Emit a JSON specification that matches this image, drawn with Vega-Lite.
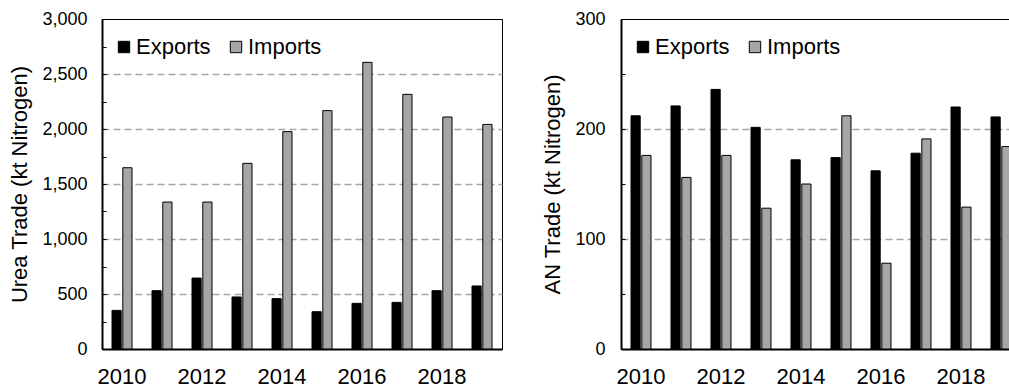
{
  "$schema": "https://vega.github.io/schema/vega-lite/v6.json",
  "padding": {"left": 8, "top": 9, "right": 0, "bottom": 0},
  "datasets": {
    "urea": [
      {"year": 2010, "type": "Exports", "value": 351},
      {"year": 2011, "type": "Exports", "value": 530},
      {"year": 2012, "type": "Exports", "value": 645},
      {"year": 2013, "type": "Exports", "value": 473},
      {"year": 2014, "type": "Exports", "value": 458},
      {"year": 2015, "type": "Exports", "value": 339},
      {"year": 2016, "type": "Exports", "value": 415},
      {"year": 2017, "type": "Exports", "value": 424},
      {"year": 2018, "type": "Exports", "value": 530},
      {"year": 2019, "type": "Exports", "value": 573},
      {"year": 2010, "type": "Imports", "value": 1648},
      {"year": 2011, "type": "Imports", "value": 1336},
      {"year": 2012, "type": "Imports", "value": 1336},
      {"year": 2013, "type": "Imports", "value": 1688},
      {"year": 2014, "type": "Imports", "value": 1976},
      {"year": 2015, "type": "Imports", "value": 2167},
      {"year": 2016, "type": "Imports", "value": 2606},
      {"year": 2017, "type": "Imports", "value": 2315},
      {"year": 2018, "type": "Imports", "value": 2109},
      {"year": 2019, "type": "Imports", "value": 2042}
    ],
    "an": [
      {"year": 2010, "type": "Exports", "value": 212},
      {"year": 2011, "type": "Exports", "value": 221},
      {"year": 2012, "type": "Exports", "value": 236},
      {"year": 2013, "type": "Exports", "value": 201.5},
      {"year": 2014, "type": "Exports", "value": 172},
      {"year": 2015, "type": "Exports", "value": 174},
      {"year": 2016, "type": "Exports", "value": 162},
      {"year": 2017, "type": "Exports", "value": 178},
      {"year": 2018, "type": "Exports", "value": 220},
      {"year": 2019, "type": "Exports", "value": 211},
      {"year": 2010, "type": "Imports", "value": 176},
      {"year": 2011, "type": "Imports", "value": 156},
      {"year": 2012, "type": "Imports", "value": 176},
      {"year": 2013, "type": "Imports", "value": 128},
      {"year": 2014, "type": "Imports", "value": 150},
      {"year": 2015, "type": "Imports", "value": 212},
      {"year": 2016, "type": "Imports", "value": 78},
      {"year": 2017, "type": "Imports", "value": 191},
      {"year": 2018, "type": "Imports", "value": 129},
      {"year": 2019, "type": "Imports", "value": 184}
    ]
  },
  "config": {
    "font": "Liberation Sans",
    "view": {"stroke": "#000000", "strokeWidth": 1},
    "axis": {
      "labelColor": "#000000",
      "titleColor": "#000000",
      "domainColor": "#000000",
      "domainWidth": 2,
      "tickColor": "#000000",
      "tickWidth": 1,
      "titleFontWeight": "normal",
      "titleFontSize": 22
    },
    "legend": {
      "orient": "none",
      "legendX": 11,
      "legendY": 17,
      "direction": "horizontal",
      "labelFontSize": 22,
      "labelColor": "#000000",
      "symbolType": "square",
      "symbolSize": 130,
      "symbolStrokeColor": "#000000",
      "symbolStrokeWidth": 1,
      "symbolOpacity": 1,
      "labelOffset": 1,
      "columnPadding": 14
    }
  },
  "spacing": 38,
  "resolve": {"scale": {"color": "independent"}, "legend": {"color": "independent"}},
  "hconcat": [
    {
      "width": 400,
      "height": 330,
      "data": {"name": "urea"},
      "mark": {"type": "bar", "stroke": "#000000", "strokeWidth": 1, "opacity": 1},
      "encoding": {
        "x": {
          "field": "year", "type": "ordinal",
          "scale": {"paddingInner": 0.5, "paddingOuter": 0.25},
          "axis": {"values": [2010, 2012, 2014, 2016, 2018], "title": null, "labelAngle": 0, "ticks": false, "labelPadding": 17, "labelFontSize": 22, "grid": false}
        },
        "xOffset": {"field": "type", "type": "nominal", "scale": {"paddingInner": 0.15}},
        "y": {
          "field": "value", "type": "quantitative",
          "scale": {"domain": [0, 3000], "nice": false},
          "axis": {
            "values": [0, 250, 500, 750, 1000, 1250, 1500, 1750, 2000, 2250, 2500, 2750, 3000],
            "format": ",d",
            "labelExpr": "datum.value % 500 === 0 ? datum.label : ''",
            "title": "Urea Trade  (kt Nitrogen)",
            "titlePadding": 10,
            "labelFontSize": 18,
            "tickSize": -4,
            "labelPadding": 19,
            "grid": true,
            "gridColor": "#a6a6a6",
            "gridWidth": 1.5,
            "gridDash": [7, 4],
            "gridOpacity": {"condition": {"test": "datum.value % 500 === 0 && datum.value > 0 && datum.value < 3000", "value": 1}, "value": 0}
          }
        },
        "color": {
          "field": "type", "type": "nominal",
          "scale": {"domain": ["Exports", "Imports"], "range": ["#000000", "#a6a6a6"]},
          "legend": {"title": null}
        }
      }
    },
    {
      "width": 391,
      "height": 330,
      "data": {"name": "an"},
      "mark": {"type": "bar", "stroke": "#000000", "strokeWidth": 1, "opacity": 1, "clip": true},
      "encoding": {
        "x": {
          "field": "year", "type": "ordinal",
          "scale": {"paddingInner": 0.5, "paddingOuter": 0.25, "range": [0, 400]},
          "axis": {"values": [2010, 2012, 2014, 2016, 2018], "title": null, "labelAngle": 0, "ticks": false, "labelPadding": 17, "labelFontSize": 22, "grid": false}
        },
        "xOffset": {"field": "type", "type": "nominal", "scale": {"paddingInner": 0.15}},
        "y": {
          "field": "value", "type": "quantitative",
          "scale": {"domain": [0, 300], "nice": false},
          "axis": {
            "values": [0, 50, 100, 150, 200, 250, 300],
            "labelExpr": "datum.value % 100 === 0 ? datum.label : ''",
            "title": "AN Trade  (kt Nitrogen)",
            "titlePadding": 10,
            "labelFontSize": 18,
            "tickSize": -4,
            "labelPadding": 20,
            "grid": true,
            "gridColor": "#a6a6a6",
            "gridWidth": 1.5,
            "gridDash": [7, 4],
            "gridOpacity": {"condition": {"test": "datum.value % 100 === 0 && datum.value > 0 && datum.value < 300", "value": 1}, "value": 0}
          }
        },
        "color": {
          "field": "type", "type": "nominal",
          "scale": {"domain": ["Exports", "Imports"], "range": ["#000000", "#a6a6a6"]},
          "legend": {"title": null}
        }
      }
    }
  ]
}
